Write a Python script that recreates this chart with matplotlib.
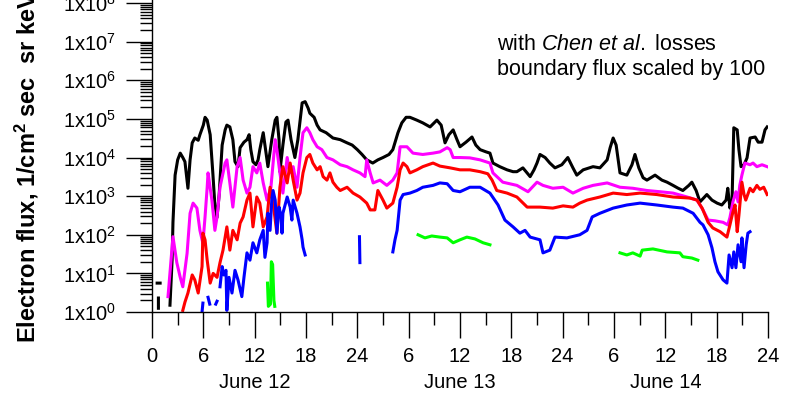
import numpy as np
import matplotlib
matplotlib.use("Agg")
import matplotlib.pyplot as plt
from matplotlib.ticker import LogLocator, FuncFormatter, NullFormatter, MultipleLocator
from matplotlib.transforms import blended_transform_factory

plt.rcParams["font.family"] = ["Liberation Sans", "DejaVu Sans"]
plt.rcParams["mathtext.fontset"] = "custom"
plt.rcParams["mathtext.rm"] = "Liberation Sans"
plt.rcParams["mathtext.it"] = "Liberation Sans:italic"
plt.rcParams["mathtext.bf"] = "Liberation Sans:bold"

nan = np.nan

# hours since 00 UT June 12, flux in 1/(cm^2 s sr keV); nan breaks a trace
black_t = [0.6, 0.95, nan, 0.75, 0.75, nan,
           2.1, 2.35, 2.45, 2.7, 3.0, 3.3, 3.6, 3.85, 4.2, 4.45, 4.7, 5.0, 5.4, 5.6,
           6.0, 6.2, 6.45, 6.8, 7.1, 7.35, 7.6, 7.85, 8.2, 8.55, 8.75, 9.1, 9.45, 9.7,
           10.05, 10.3, 10.75, 11.1, 11.35, 11.55, 11.8, 12.15, 12.4, 12.6, 13.0, 13.2,
           13.55, 14.0, 14.4, 14.6, 14.85, 14.95, 15.3, 15.65, 15.9, 16.25, 16.7, 17.05,
           17.55, 17.9, 18.25, 18.45, 18.95, 19.3, 19.65, 20.35, 21.15, 22.0, 22.8, 23.4,
           24.0, 24.55, 25.1, 25.8, 26.4, 27.0, 27.7, 28.15, 28.75, 29.2, 29.7, 30.15,
           30.95, 31.65, 32.5, 33.3, 33.8, 34.25, 34.7, 35.2, 35.65, 36.0, 36.7, 37.4,
           37.85, 38.35, 39.05, 39.5, 39.85, 40.65, 41.5, 42.2, 42.65, 43.35, 44.2, 44.65,
           45.0, 45.35, 45.95, 46.5, 47.1, 47.9, 48.6, 49.2, 49.65, 50.4, 51.55, 52.35,
           53.2, 53.55, 53.9, 54.25, 54.7, 55.5, 56.1, 56.45, 56.9, 57.4, 57.85, 58.8,
           59.6, 60.2, 60.9, 61.5, 62.05, 62.75, 63.1, 63.6, 64.05, 64.85, 65.45, 66.05,
           66.6, 67.1, 67.3, 67.55, 67.8, 68.0, 68.4, 68.6, 68.85, 69.2, 69.55, 69.9,
           70.5, 70.85, 71.3, 71.65, 71.9]
black_f = [5.6, 5.6, nan, 1.25, 2.3, nan,
           1.5, 22, 210, 3500, 8700, 13000, 10000, 7800, 1600, 8700, 24000, 32000, 28000, 39000,
           69000, 110000, 93000, 39000, 4300, 590, 280, 1100, 21000, 52000, 69000, 62000, 29000, 7800,
           5800, 18000, 25000, 29000, 39000, 16000, 7800, 6500, 8700, 16000, 44000, 21000,
           5800, 29000, 93000, 110000, 29000, 4300, 21000, 83000, 93000, 29000, 10000, 29000,
           260000, 280000, 190000, 140000, 110000, 69000, 52000, 44000, 32000, 29000, 24000, 21000,
           16000, 12000, 8700, 7200, 8700, 10000, 12000, 16000, 44000, 79000, 110000, 110000,
           93000, 79000, 62000, 93000, 69000, 24000, 39000, 52000, 29000, 19000, 25000, 34000,
           21000, 16000, 14000, 13000, 7200, 5800, 4800, 4300, 4300, 5400, 3200, 4800,
           7200, 12000, 10000, 7200, 5400, 6500, 10000, 5400, 3500, 4800, 5800, 5400,
           8700, 18000, 32000, 21000, 4000, 3500, 6500, 12000, 5400, 3000, 2600, 3500,
           2600, 2300, 1900, 1600, 1400, 1900, 2300, 1400, 710, 1100, 790, 660,
           590, 790, 1600, 490, 790, 59000, 52000, 16000, 5800, 6500, 9800, 32000,
           34000, 25000, 25000, 52000, 62000]

magenta_t = [1.87, 2.45, 2.9, 3.3, 3.6, 4.1, 4.45, 4.8, 5.25, 5.6, 5.95, 6.2, 6.45, 6.55,
             7.0, 7.35, 7.6, 7.95, 8.55, 8.75, 9.1, 9.45, 9.95, 10.3, 10.65, 11.1, 11.45,
             11.8, 12.25, 12.6, 13.0, 13.45, 13.9, 14.4, 14.6, 14.95, 15.3, 15.8, 16.1,
             16.5, 16.95, 17.3, 17.65, 18.1, 18.45, 18.8, 19.3, 19.85, 20.45, 21.15, 22.0,
             22.8, 23.5, 24.3, 24.9, 25.1, 25.5, 25.85, 26.65, 27.45, 28.15, 28.65, 29.0,
             29.8, 30.5, 31.65, 32.85, 33.65, 34.5, 34.85, 35.2, 36.0, 37.15, 38.35, 39.5,
             39.85, 41.0, 42.65, 43.95, 45.0, 45.7, 46.85, 48.05, 49.2, 50.4, 51.55, 53.2,
             54.7, 56.2, 57.85, 59.4, 60.9, 62.55, 63.7, 64.4, 65.0, 65.8, 66.75, 67.3,
             67.55, 67.9, 68.25, 68.5, 68.7, 68.95, 69.3, 69.9, 70.25, 70.7, 71.3, 71.9]
magenta_f = [2.5, 89, 19, 7.9, 4.5, 33, 360, 660, 490, 130, 60, 290, 1700, 4000,
             790, 130, 290, 1700, 7200, 8700, 2200, 520, 5800, 10000, 2600, 1200, 1700,
             5800, 4000, 7200, 2200, 790, 1700, 29000, 16000, 4000, 1200, 10000, 4000,
             5800, 1700, 10000, 44000, 59000, 44000, 29000, 19000, 16000, 10000, 8700, 6500,
             5800, 4800, 4000, 3200, 8700, 4000, 2200, 2600, 1900, 2600, 4000, 19000,
             19000, 13000, 12000, 13000, 14000, 18000, 16000, 10000, 10000, 9800, 8700, 7200,
             4000, 2300, 1900, 1300, 2300, 1900, 1600, 1700, 1200, 1600, 1900, 2200,
             1700, 1600, 1400, 1300, 1200, 950, 790, 440, 240, 230, 210, 180,
             280, 710, 1300, 710, 1900, 3500, 7200, 6500, 7200, 5800, 6500, 5800]

red_t = [3.6, 3.85, 4.2, 4.7, 5.0, 5.4, 5.85, 5.95, 6.2, 6.45, 6.8, 7.15, 7.6, 7.95,
         8.3, 8.75, 9.1, 9.45, 9.95, 10.3, 10.65, 11.1, 11.45, 11.8, 12.25, 12.6, 13.0,
         13.45, 13.8, 14.15, 14.6, 14.95, 15.3, 15.8, 16.15, 16.5, 16.95, 17.3, 17.65,
         18.1, 18.45, 18.8, 19.3, 19.65, 20.0, 20.45, 20.8, 21.15, 21.6, 22.0, 22.8,
         23.5, 24.3, 25.1, 25.5, 26.05, 26.4, 27.0, 27.45, 28.15, 28.65, 29.0, 29.35,
         29.8, 30.15, 30.95, 31.65, 32.85, 33.65, 34.85, 36.0, 37.15, 38.35, 39.25,
         39.75, 40.3, 41.5, 42.65, 43.85, 45.35, 46.85, 48.05, 49.2, 50.0, 50.85, 52.35,
         53.9, 55.5, 57.05, 59.0, 60.9, 62.9, 63.7, 64.3, 65.0, 65.55, 66.4, 67.2,
         67.55, 67.9, 68.15, 68.4, 68.6, 68.95, 69.2, 69.4, 69.9, 70.25, 70.7, 71.05,
         71.5, 71.9]
red_f = [1.1, 1.8, 3.1, 9.1, 6.8, 3.1, 15, 110, 74, 22, 5.6, 10, 7.9, 19,
         40, 160, 40, 130, 74, 200, 290, 790, 1200, 160, 950, 660, 160,
         290, 1700, 660, 110, 1700, 5800, 2200, 7200, 2600, 790, 1200, 4000,
         10000, 12000, 7200, 4800, 5800, 3200, 2600, 4000, 2300, 1700, 1400, 1700,
         1200, 950, 660, 440, 440, 1400, 790, 490, 660, 1700, 4800, 7200,
         5800, 4000, 4800, 5800, 7200, 6000, 5400, 4800, 4800, 4300, 3800,
         2600, 1400, 1200, 950, 520, 520, 490, 560, 520, 660, 790, 950,
         1200, 1100, 1200, 1100, 950, 890, 790, 490, 210, 150, 120, 87,
         180, 390, 590, 120, 320, 2300, 1100, 790, 1600, 1300, 1900, 1500,
         1700, 1100]

blue_t = [5.85, 5.95, nan, 6.55, 6.75, nan, 7.45, 7.6, nan,
          7.95, 8.2, 8.4, 8.65, 8.75, 9.0, 9.35, 9.7, 10.05, 10.5, 10.75, 11.1, 11.45,
          11.8, 12.25, 12.6, 13.0, 13.2, 13.45, 13.55, 13.8, 14.0, 14.15, 14.4, 14.6,
          14.85, 15.1, 15.2, 15.3, 15.8, 16.15, 16.35, 16.5, 16.95, 17.3, 17.55, 17.65,
          17.9, nan,
          24.25, 24.3, nan,
          28.15, 28.4, 28.65, 29.0, 29.35, 30.15, 30.95, 31.65, 32.85, 33.65, 34.5,
          35.2, 36.0, 37.15, 38.35, 39.5, 40.45, 41.25, 42.2, 43.0, 43.6, 44.2, 45.35,
          45.7, 46.5, 47.1, 48.5, 50.0, 50.85, 51.45, 52.35, 53.9, 55.5, 57.05, 59.0,
          60.9, 62.05, 63.25, 64.05, 64.4, 65.0, 65.45, 65.8, 66.15, 66.75, 67.2, 67.45,
          67.8, 68.0, 68.25, 68.5, 68.85, 68.95, 69.2, 69.45, 69.65, 69.9]
blue_f = [1.0, 1.7, nan, 2.4, 1.6, nan, 1.6, 1.9, nan,
          4.5, 15, 9.1, 12, 1.1, 7.9, 3.1, 12, 6.8, 2.5, 7.9, 34, 22,
          62, 34, 74, 130, 26, 62, 360, 130, 790, 1400, 790, 110,
          520, 290, 110, 360, 950, 520, 240, 790, 360, 160, 74, 48,
          30, nan,
          89, 19, nan,
          36, 74, 130, 790, 1100, 1200, 1400, 1700, 1900, 2200, 2100,
          1400, 1300, 1700, 1700, 1200, 590, 240, 160, 110, 130, 87, 74,
          34, 40, 87, 83, 100, 130, 290, 360, 490, 590, 660, 590,
          520, 490, 360, 210, 180, 100, 46, 20, 11, 6.8, 5.6, 30,
          14, 36, 14, 55, 20, 83, 14, 55, 110, 120]

green_t = [13.5, 13.6, 13.85, 13.95, 14.1, 14.25, 14.35, nan,
           31.1, 31.9, 32.7, 33.65, 34.5, 35.2, 36.0, 36.8, 37.75, 38.7, 39.5, nan,
           54.7, 55.5, 56.2, 57.05, 57.3, 58.55, 60.2, 61.7, 62.05, 63.1, 63.8]
green_f = [5.6, 1.4, 1.6, 20, 17, 2.0, 1.4, nan,
           100, 83, 93, 87, 83, 62, 74, 87, 78, 62, 55, nan,
           34, 30, 34, 28, 40, 43, 36, 34, 27, 25, 22]

hour_ticks = np.arange(0, 73, 6)
hour_labels = ["0", "6", "12", "18", "24", "6", "12", "18", "24", "6", "12", "18", "24"]
day_centres = [12, 36, 60]
day_labels = ["June 12", "June 13", "June 14"]

fig = plt.figure(figsize=(7.89, 3.96), dpi=100)
ax = fig.add_axes([152 / 789, 84 / 396, 616 / 789, 312 / 396])

lw = 2.2
ax.plot(black_t, black_f, color="black", lw=lw)
ax.plot(magenta_t, magenta_f, color="#ff00ff", lw=lw)
ax.plot(red_t, red_f, color="#ff0000", lw=lw)
ax.plot(blue_t, blue_f, color="#0000ff", lw=lw)
ax.plot(green_t, green_f, color="#00ff00", lw=lw)

ax.set_yscale("log")
ax.set_ylim(1, 1.2e8)
ax.set_xlim(0, 72)

for side in ("top", "right"):
    ax.spines[side].set_visible(False)
for side in ("left", "bottom"):
    ax.spines[side].set_linewidth(1.0)

ax.yaxis.set_major_locator(LogLocator(base=10, numticks=20))
ax.yaxis.set_minor_locator(LogLocator(base=10, subs=np.arange(2, 10), numticks=20))
ax.yaxis.set_major_formatter(FuncFormatter(lambda v, p: "1x10$^{%d}$" % round(np.log10(v))))
ax.yaxis.set_minor_formatter(NullFormatter())

ax.set_xticks(hour_ticks)
ax.set_xticklabels(hour_labels)
ax.xaxis.set_minor_locator(MultipleLocator(3))

ax.tick_params(axis="both", which="major", direction="out", length=19, width=1.0,
               labelsize=14.5, colors="black")
ax.tick_params(axis="both", which="minor", direction="out", length=9, width=1.0)
ax.tick_params(axis="y", which="major", pad=7)
ax.tick_params(axis="x", which="major", pad=6)

trans = blended_transform_factory(ax.transData, fig.transFigure)
for xc, lab in zip(day_centres, day_labels):
    ax.text(xc, 1 - 383 / 396, lab, transform=trans, ha="center", va="center",
            fontsize=14.5, clip_on=False)

fig.text(27 / 789, 1 - 343 / 396, r"Electron flux, 1/cm$^\mathbf{2}$ sec  sr keV",
         rotation=90, ha="center", va="bottom", fontsize=17, fontweight="bold")

fig.text(497 / 789, 1 - 44 / 396, r"with $\mathit{Chen\ et\ al.}$ losses",
         ha="left", va="center", fontsize=15.5)
fig.text(497 / 789, 1 - 70 / 396, "boundary flux scaled by 100",
         ha="left", va="center", fontsize=15.5)

fig.savefig("out.png", dpi=100)
